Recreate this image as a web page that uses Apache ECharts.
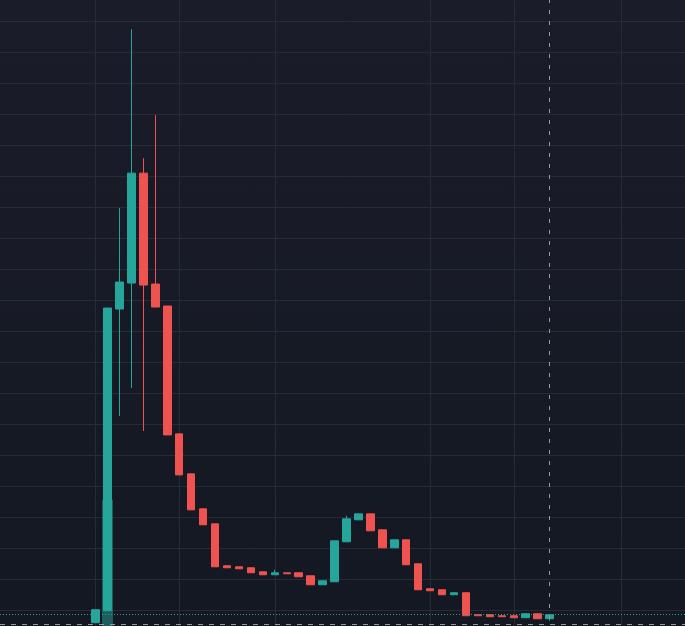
<!DOCTYPE html>
<html>
<head>
<meta charset="utf-8">
<script src="https://cdn.jsdelivr.net/npm/echarts@6/dist/echarts.min.js"></script>
<style>
html,body{margin:0;padding:0;background:#161a25;overflow:hidden;width:685px;height:626px;}
#wrap{position:relative;width:685px;height:626px;overflow:hidden;background:linear-gradient(#1a1d29,#141823);}
#chart{position:absolute;left:0;top:-10px;width:693px;height:651px;}
</style>
</head>
<body>
<div id="wrap"><div id="chart"></div></div>
<script>
// ---- data (price units; one grid step = 1) ----
const opens  = [0.590, 0.976, 10.709, 11.547, 15.092, 11.515, 10.806, 6.681, 5.392, 4.264,
                3.780, 2.427, 2.394, 2.362, 2.233, 2.137, 2.201, 2.201, 2.104, 1.814,
                1.911, 3.200, 3.909, 4.102, 3.587, 3.007, 3.265, 2.491, 1.685, 1.653,
                1.492, 1.557, 0.848, 0.848, 0.815, 0.815, 0.751, 0.880, 0.719];
const closes = [1.009, 10.741, 11.579, 15.092, 11.482, 10.773, 6.648, 5.359, 4.231, 3.748,
                2.394, 2.362, 2.330, 2.201, 2.137, 2.201, 2.169, 2.072, 1.814, 1.943,
                3.232, 3.941, 4.102, 3.555, 3.007, 3.265, 2.459, 1.653, 1.621, 1.492,
                1.557, 0.815, 0.815, 0.783, 0.783, 0.751, 0.880, 0.719, 0.848];
const lows   = [0.590, 0.976, 7.261, 8.163, 6.777, 10.773, 6.648, 5.359, 4.231, 3.748,
                2.394, 2.362, 2.330, 2.201, 2.137, 2.137, 2.169, 2.072, 1.814, 1.814,
                1.911, 3.200, 3.909, 3.555, 3.007, 3.007, 2.459, 1.653, 1.621, 1.492,
                1.492, 0.815, 0.815, 0.783, 0.783, 0.751, 0.751, 0.719, 0.654];
const highs  = [1.009, 10.741, 13.964, 19.733, 15.575, 16.961, 10.806, 6.681, 5.392, 4.264,
                3.780, 2.427, 2.394, 2.362, 2.233, 2.298, 2.201, 2.201, 2.104, 1.943,
                3.232, 4.038, 4.102, 4.102, 3.587, 3.265, 3.265, 2.491, 1.685, 1.653,
                1.557, 1.557, 0.848, 0.848, 0.815, 0.815, 0.880, 0.880, 0.848];
const volumes = [4, 100, 6, 7, 6, 5, 5, 4, 3, 3,
                 3, 2, 2, 2, 2, 2, 2, 2, 2, 2,
                 4, 4, 3, 3, 3, 2, 3, 3, 2, 2,
                 2, 3, 2, 2, 2, 2, 2, 2, 2];
const leadingEmptyBars = 8;
const trailingEmptyBars = 12;
const gridLineBars = [0, 7, 15, 28, 35, 44];   // bars (from first candle) carrying vertical grid lines
const crosshairPrice = 0.541;
const priceMin = 0, priceMax = 21, priceStep = 1;

// ---- build axes/series ----
const total = leadingEmptyBars + opens.length + trailingEmptyBars;
const categories = Array.from({length: total}, (_, i) => String(i - leadingEmptyBars));
const candleData = categories.map((c, i) => {
  const k = i - leadingEmptyBars;
  return (k >= 0 && k < opens.length) ? [opens[k], closes[k], lows[k], highs[k]] : '-';
});
const volData = categories.map((c, i) => {
  const k = i - leadingEmptyBars;
  return (k >= 0 && k < opens.length) ? {
    value: volumes[k],
    itemStyle: {color: closes[k] >= opens[k] ? 'rgba(38,166,154,0.5)' : 'rgba(239,83,80,0.5)'}
  } : '-';
});
const gridIdx = gridLineBars.map(b => b + leadingEmptyBars);
const lastIdx = leadingEmptyBars + opens.length - 1;
const lastClose = closes[closes.length - 1];

const UP = '#26a69a', DOWN = '#ef5350', GRID = '#272a37';

const chart = echarts.init(document.getElementById('chart'), null, {renderer: 'canvas'});
chart.setOption({
  animation: false,
  backgroundColor: 'transparent',
  grid: {left: 0, right: 0, top: 0, bottom: 0, containLabel: false},
  xAxis: {
    type: 'category', data: categories, boundaryGap: false,
    axisLine: {show: false}, axisTick: {show: false}, axisLabel: {show: false},
    splitLine: {show: true, interval: (i) => gridIdx.includes(i), lineStyle: {color: GRID, width: 1}}
  },
  yAxis: [{
    type: 'value', min: priceMin, max: priceMax, interval: priceStep, scale: false,
    axisLine: {show: false}, axisTick: {show: false}, axisLabel: {show: false},
    splitLine: {show: true, lineStyle: {color: GRID, width: 1}}
  }, {
    type: 'value', min: 0, max: 461, show: false, splitLine: {show: false}
  }],
  series: [{
    type: 'bar', yAxisIndex: 1, data: volData, barWidth: 11, z: 1, silent: true
  }, {
    type: 'candlestick', data: candleData, barWidth: 8, z: 3,
    itemStyle: {color: UP, color0: DOWN, borderColor: UP, borderColor0: DOWN, borderWidth: 1},
    markLine: {
      silent: true, symbol: 'none', label: {show: false}, animation: false,
      data: [
        {yAxis: lastClose, lineStyle: {color: UP, type: [1, 2], width: 1}},
        {yAxis: crosshairPrice, lineStyle: {color: '#9598a1', type: [5, 6], width: 1}},
        {xAxis: categories[lastIdx], lineStyle: {color: '#9598a1', type: [4, 7], width: 1}}
      ]
    }
  }]
});
</script>
</body>
</html>
